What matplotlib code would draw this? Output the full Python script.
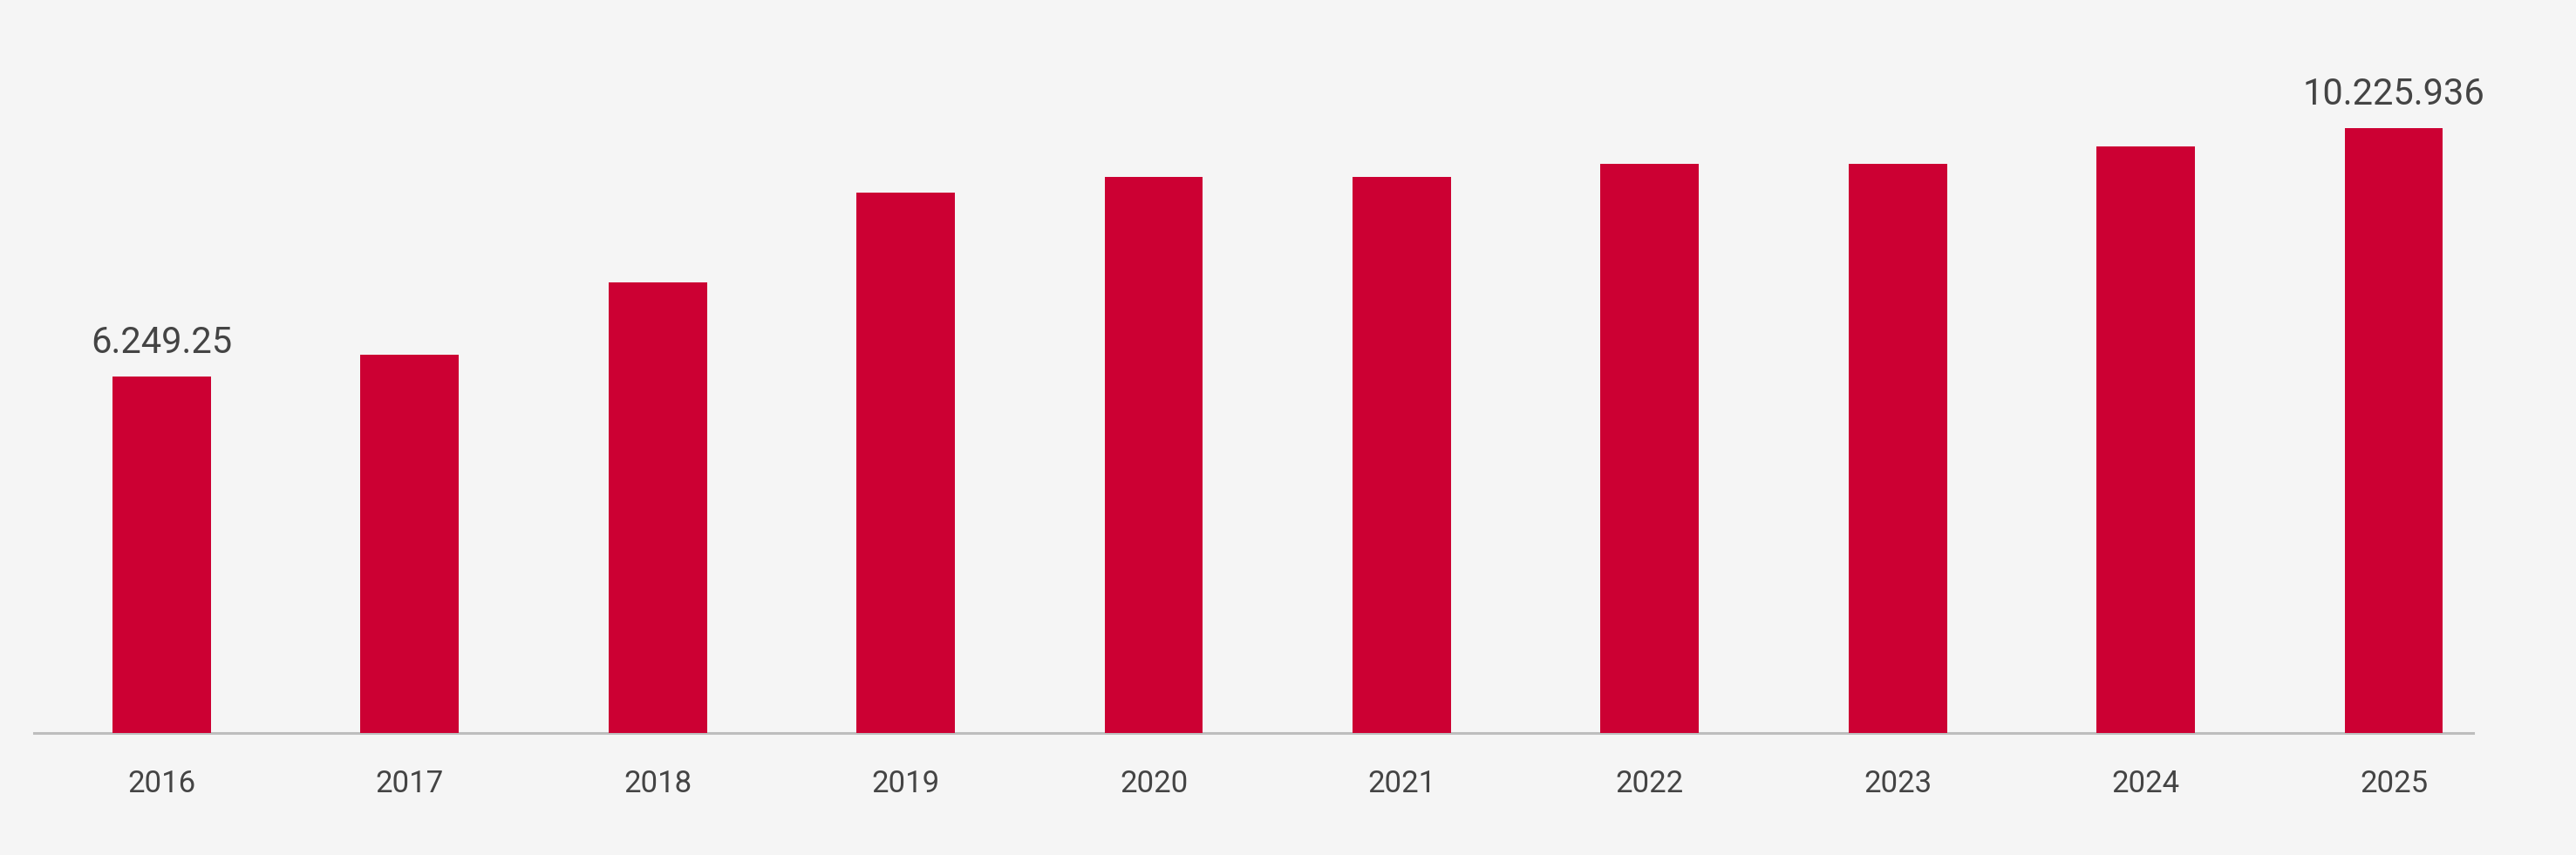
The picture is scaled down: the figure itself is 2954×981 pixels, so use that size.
import matplotlib
matplotlib.use("Agg")
import matplotlib.pyplot as plt
import numpy as np

# Data
years = ["2016", "2017", "2018", "2019", "2020", "2021", "2022", "2023", "2024", "2025"]
values = [6030000, 6400000, 7620000, 9140000, 9400000, 9400000, 9620000, 9620000, 9920000, 10225936]
value_labels = {0: "6.249.25", 9: "10.225.936"}

BG = "#f5f5f5"
BAR = "#cc0033"
TXT = "#444444"

plt.rcParams['font.family'] = ['Roboto', 'DejaVu Sans']

fig = plt.figure(figsize=(29.54, 9.81), dpi=100, facecolor=BG)
W, H = 2954, 981
ax = fig.add_axes([39 / W, 140 / H, 2797 / W, 841 / H])
ax.set_facecolor(BG)

x = np.arange(len(years))
bars = ax.bar(x, values, width=0.397, color=BAR, zorder=3)

ax.set_xlim(-0.515, len(years) - 1 + 0.32)
ax.set_ylim(0, max(values) * 841 / 694)

for s in ["top", "right", "left"]:
    ax.spines[s].set_visible(False)
ax.spines["bottom"].set_color("#bdbdbd")
ax.spines["bottom"].set_linewidth(2.2)
ax.spines["bottom"].set_zorder(2)

ax.set_yticks([])
ax.set_xticks(x)
ax.set_xticklabels(years, fontsize=25, color=TXT, fontweight="normal")
ax.tick_params(axis="x", length=0, pad=30)

for i, lab in value_labels.items():
    ax.annotate(lab, (x[i], values[i]), xytext=(0, 13), textcoords="offset points",
                ha="center", va="bottom", fontsize=30, color=TXT, fontweight="normal")

fig.savefig("out.png", dpi=100, facecolor=BG)
